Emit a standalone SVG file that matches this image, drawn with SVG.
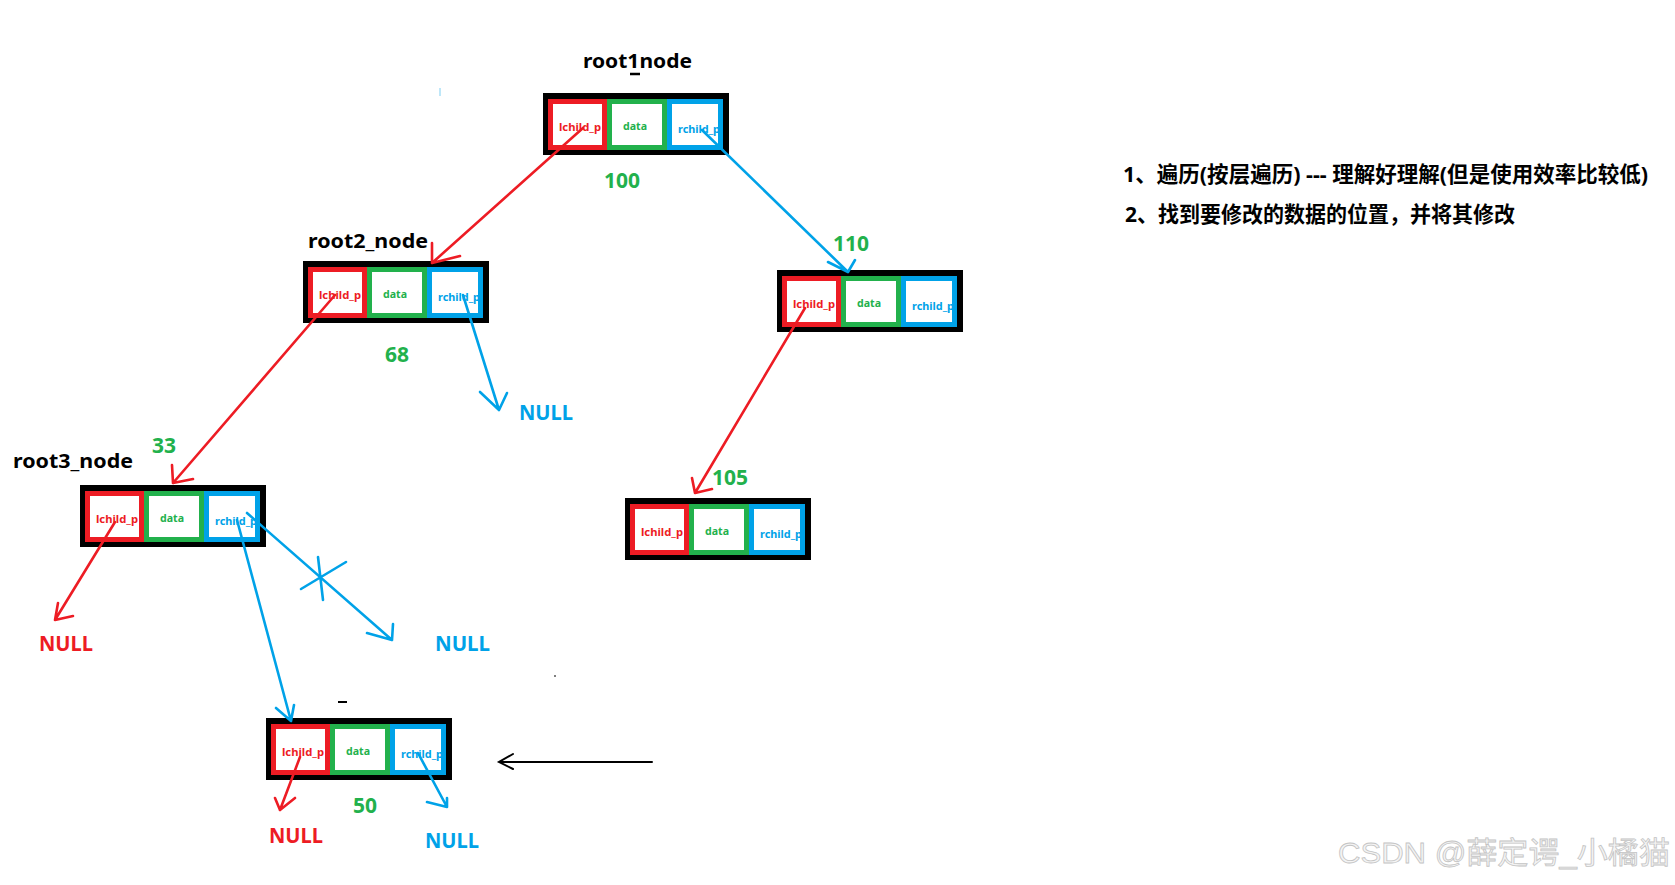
<svg xmlns="http://www.w3.org/2000/svg" width="1675" height="885" viewBox="0 0 1675 885">
<style>
.t{font-family:"Noto Sans","Noto Sans CJK SC",sans-serif;font-weight:bold}
.title{font-size:20px;fill:#000}
.num{font-size:21px;fill:#22b14c}
.nl{font-size:21px}
.cell{font-size:10.5px}
.r{stroke:#ed1c24}
.g{stroke:#22b14c}
.b{stroke:#00a2e8}
.cr{fill:#fff;stroke-width:5}
.ln{fill:none;stroke-width:2.6;stroke-linecap:round;stroke-linejoin:round}
.note{font-size:21.5px;fill:#000}
</style>
<defs>
<g id="node">
<rect x="0" y="0" width="186" height="62" fill="#000"/>
<rect class="cr r" x="7.5" y="8.5" width="54" height="46"/>
<rect class="cr g" x="66.5" y="8.5" width="55" height="46"/>
<rect class="cr b" x="126.5" y="8.5" width="51" height="46"/>
<text class="t cell" x="37" y="38" text-anchor="middle" fill="#ed1c24" textLength="42" lengthAdjust="spacingAndGlyphs">lchild_p</text>
<text class="t cell" x="92" y="37" text-anchor="middle" fill="#22b14c" textLength="24" lengthAdjust="spacingAndGlyphs">data</text>
<text class="t cell" x="135" y="40" fill="#00a2e8" textLength="42" lengthAdjust="spacingAndGlyphs">rchild_p</text>
</g>
</defs>
<rect width="1675" height="885" fill="#fff"/>

<g id="node-root1">
<use href="#node" x="543" y="93"/>
<text class="t title" x="583" y="68" textLength="109" lengthAdjust="spacingAndGlyphs">root1node</text>
<line x1="630" y1="74" x2="640" y2="74" stroke="#000" stroke-width="2.5"/>
<text class="t num" x="622" y="188" text-anchor="middle">100</text>
</g>

<g id="node-root2">
<use href="#node" x="303" y="261"/>
<text class="t title" x="308" y="248" textLength="120" lengthAdjust="spacingAndGlyphs">root2_node</text>
<text class="t num" x="397" y="362" text-anchor="middle">68</text>
</g>

<g id="node-110">
<use href="#node" x="777" y="270"/>
<text class="t num" x="851" y="251" text-anchor="middle">110</text>
</g>

<g id="node-root3">
<use href="#node" x="80" y="485"/>
<text class="t title" x="13" y="468" textLength="120" lengthAdjust="spacingAndGlyphs">root3_node</text>
<text class="t num" x="164" y="453" text-anchor="middle">33</text>
</g>

<g id="node-105">
<use href="#node" x="625" y="498"/>
<text class="t num" x="730" y="485" text-anchor="middle">105</text>
</g>

<g id="node-50">
<use href="#node" x="266" y="718"/>
<text class="t num" x="365" y="813" text-anchor="middle">50</text>
<line x1="338" y1="702" x2="347" y2="702" stroke="#000" stroke-width="2"/>
</g>

<g id="null-labels">
<text class="t nl" x="519" y="420" fill="#00a2e8" textLength="54" lengthAdjust="spacingAndGlyphs">NULL</text>
<text class="t nl" x="39" y="651" fill="#ed1c24" textLength="54" lengthAdjust="spacingAndGlyphs">NULL</text>
<text class="t nl" x="435" y="651" fill="#00a2e8" textLength="55" lengthAdjust="spacingAndGlyphs">NULL</text>
<text class="t nl" x="269" y="843" fill="#ed1c24" textLength="54" lengthAdjust="spacingAndGlyphs">NULL</text>
<text class="t nl" x="425" y="848" fill="#00a2e8" textLength="54" lengthAdjust="spacingAndGlyphs">NULL</text>
</g>

<g id="connectors">
<path class="ln r" d="M583,128 L432,263 M432,243 L432,263 L460,256"/>
<path class="ln b" d="M702,130 L848,272 M828,262 L848,272 L855,260"/>
<path class="ln r" d="M335,295 L173,483 M172,465 L173,483 L193,479"/>
<path class="ln b" d="M463,295 L499,410 M480,392 L499,410 L507,393"/>
<path class="ln r" d="M805,308 L695,493 M692,478 L695,493 L712,489"/>
<path class="ln r" d="M115,522 L55,620 M58,603 L55,620 L73,616"/>
<path class="ln b" d="M237,520 L291,721 M276,708 L291,721 L294,705"/>
<path class="ln b" d="M247,513 L392,640 M367,633 L392,640 L393,624"/>
<path class="ln b" d="M318,557 L323,600 M301,589 L346,562"/>
<path class="ln r" d="M300,757 L280,810 M275,798 L280,810 L295,798"/>
<path class="ln b" d="M418,753 L447,807 M427,802 L447,807 L447,798"/>
<path fill="none" stroke="#000" stroke-width="2" stroke-linecap="round" d="M652,762 L499,762 M513,754 L499,762 L513,769"/>
<line x1="440" y1="88" x2="440" y2="96" stroke="#00a2e8" stroke-width="1" opacity="0.5"/>
<circle cx="555" cy="676" r="1" fill="#555"/>
</g>

<g id="notes">
<text class="t note" x="1123" y="182" textLength="525" lengthAdjust="spacingAndGlyphs">1、遍历(按层遍历) --- 理解好理解(但是使用效率比较低)</text>
<text class="t note" x="1125" y="222" textLength="390" lengthAdjust="spacingAndGlyphs">2、找到要修改的数据的位置，并将其修改</text>
</g>

<g id="watermark">
<text x="1338" y="863" font-family="'Liberation Sans','Noto Sans CJK SC',sans-serif" font-size="30" fill="#f4f4f4" stroke="#c4c4c4" stroke-width="0.8" textLength="332" lengthAdjust="spacingAndGlyphs">CSDN @薛定谔_小橘猫</text>
</g>
</svg>
